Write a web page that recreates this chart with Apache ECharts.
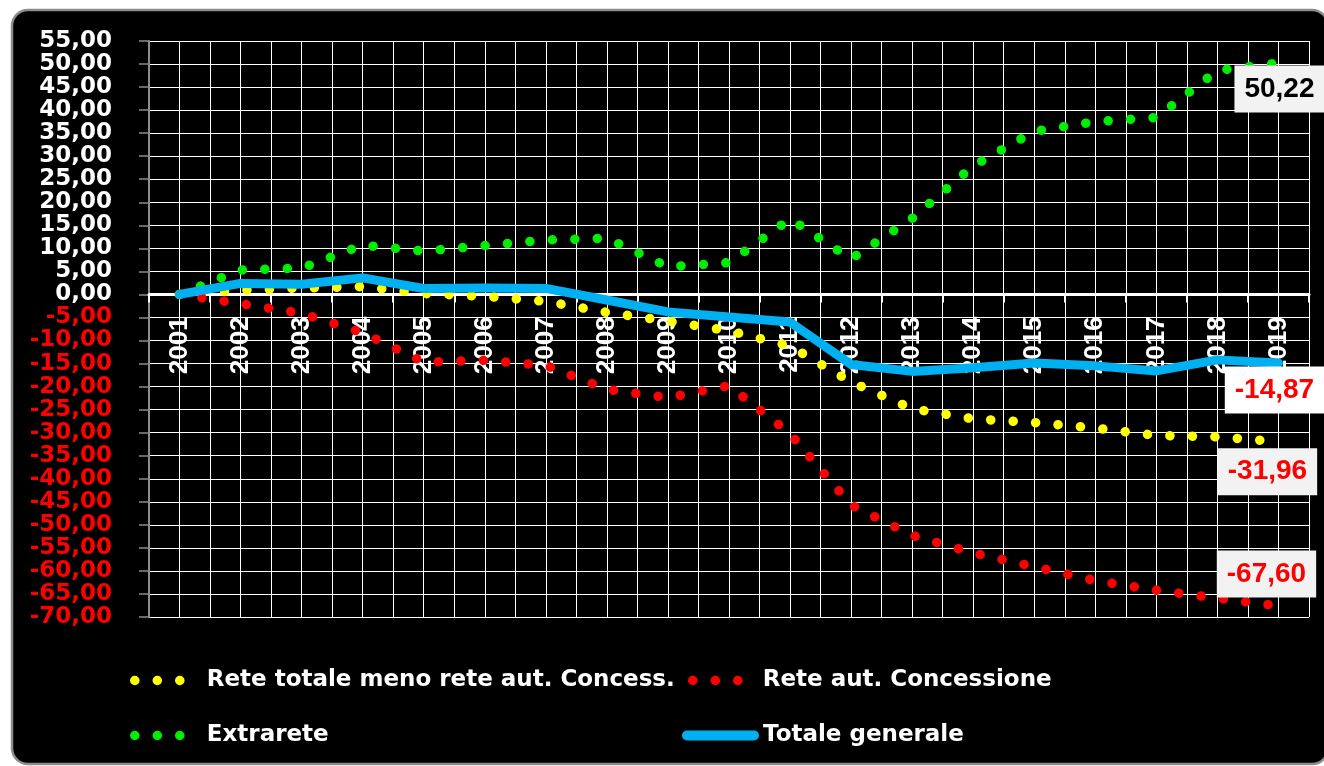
<!DOCTYPE html>
<html>
<head>
<meta charset="utf-8">
<script src="https://cdn.jsdelivr.net/npm/echarts@6/dist/echarts.min.js"></script>
<style>
html,body{margin:0;padding:0;background:#fff;}
#chart{width:1324px;height:766px;}
</style>
</head>
<body>
<div id="chart"></div>
<script>
// ---- data ----
const years = ['2001','2002','2003','2004','2005','2006','2007','2008','2009','2010',
               '2011','2012','2013','2014','2015','2016','2017','2018','2019'];
const reteTotaleMeno = [0, 0.9, 1.4, 1.7, 0.2, -0.4, -1.5, -3.9, -5.8, -7.9,
                        -11.2, -19.0, -24.8, -27.0, -27.8, -29.0, -30.6, -30.9, -31.96];
const reteAutConcessione = [0, -2.0, -4.1, -8.3, -14.7, -14.3, -15.4, -20.6, -22.4, -19.8,
                            -30.2, -45.7, -52.3, -56.1, -59.1, -62.1, -64.2, -65.9, -67.60];
const extrarete = [0, 5.3, 5.7, 10.7, 9.4, 10.6, 11.8, 12.2, 6.0, 6.9,
                   16.4, 7.7, 16.5, 27.9, 35.4, 37.5, 38.4, 48.6, 50.22];
const totaleGenerale = [0, 2.4, 2.2, 3.6, 1.3, 1.4, 1.3, -1.2, -3.8, -4.9,
                        -6.0, -15.2, -16.7, -15.9, -14.9, -15.5, -16.6, -14.2, -14.87];
const seriesNames = ['Rete totale meno rete aut. Concess.', 'Rete aut. Concessione', 'Extrarete', 'Totale generale'];
const yMin = -70, yMax = 55, yStep = 5;

const fmt = v => Number(v).toFixed(2).replace('.', ',');
const last = years.length - 1;

// grid geometry
const W = 1324, H = 766;
const gTop = 41, gBottom = 149, gLeft = 149, gRight = 15;
const plotH = H - gTop - gBottom;
const zeroY = gTop + (yMax / (yMax - yMin)) * plotH;
const xAxisOffset = -((H - gBottom) - zeroY);

const DOT = [0.1, 22.4];

function endMark(values, color, bg, offset) {
  return {
    symbol: 'circle', symbolSize: 1,
    itemStyle: {color: 'transparent'},
    animation: false,
    data: [{coord: [years[last], values[last]], value: values[last]}],
    label: {
      show: true, position: 'inside', offset: offset,
      formatter: p => fmt(p.value),
      color: color, backgroundColor: bg,
      fontFamily: 'Liberation Sans', fontWeight: 'bold', fontSize: 28,
      padding: [8, 10, 7, 10], lineHeight: 32
    }
  };
}

function dotted(name, values, color, mark) {
  return {
    name: name, type: 'line', data: values,
    symbol: 'none', showSymbol: false, z: 3,
    lineStyle: {color: color, width: 9.5, type: DOT, cap: 'round', join: 'round'},
    itemStyle: {color: color},
    markPoint: mark
  };
}

const chart = echarts.init(document.getElementById('chart'), null, {renderer: 'canvas'});
const legendText = {
  color: '#fff', fontFamily: 'DejaVu Sans', fontWeight: 'bold', fontSize: 23,
  textShadowColor: 'rgba(128,128,128,0.8)', textShadowOffsetX: 1, textShadowOffsetY: 2, textShadowBlur: 0
};
function leg(name, left, top, w, pad, color, dashed) {
  return {
    data: [name], left: left, top: top, orient: 'horizontal',
    itemWidth: w, itemHeight: 14, selectedMode: false,
    itemStyle: {color: 'transparent', borderColor: 'transparent', borderWidth: 0},
    lineStyle: {color: color, width: dashed ? 9.5 : 10, type: dashed ? DOT : 'solid', cap: 'round'},
    textStyle: Object.assign({padding: [0, 0, 0, pad]}, legendText)
  };
}

chart.setOption({
  backgroundColor: '#fff',
  animation: false,
  graphic: [{
    type: 'rect', z: -10, silent: true,
    shape: {x: 12, y: 10, width: 1316, height: 754, r: 16},
    style: {fill: '#000', stroke: '#8c8c8c', lineWidth: 2.5}
  }],
  grid: {left: gLeft, right: gRight, top: gTop, bottom: gBottom, containLabel: false},
  legend: [
    leg(seriesNames[0], 125, 664, 48, 19, '#ffff00', true),
    leg(seriesNames[1], 683, 664, 48, 17, '#ff0000', true),
    leg(seriesNames[2], 125, 719, 48, 19, '#00ee00', true),
    leg(seriesNames[3], 677, 719, 67, 4, '#00b0f0', false)
  ],
  xAxis: [{
    type: 'category', data: years, boundaryGap: true,
    position: 'bottom', offset: xAxisOffset,
    axisLine: {onZero: false, lineStyle: {color: '#fff', width: 3}},
    axisTick: {show: true, interval: 0, length: 8, lineStyle: {color: '#fff', width: 2}},
    axisLabel: {
      interval: 0, rotate: 90, margin: 22, color: '#fff',
      fontFamily: 'Liberation Sans', fontWeight: 'bold', fontSize: 26,
      textShadowColor: 'rgba(90,90,90,0.9)', textShadowOffsetX: 1, textShadowOffsetY: 1
    },
    splitLine: {show: false}, z: 2
  }, {
    type: 'value', min: 0, max: 38, interval: 1, position: 'top',
    axisLine: {show: false}, axisTick: {show: false}, axisLabel: {show: false},
    splitLine: {show: true, lineStyle: {color: '#fff', width: 1}}
  }],
  yAxis: {
    type: 'value', min: yMin, max: yMax, interval: yStep,
    axisLine: {show: true, onZero: false, lineStyle: {color: '#8c8c8c', width: 2}},
    axisTick: {show: true, length: 10, lineStyle: {color: '#8c8c8c', width: 1.5}},
    axisLabel: {
      margin: 37, formatter: v => fmt(v),
      color: v => (v < 0 ? '#ff0000' : '#ffffff'),
      fontFamily: 'DejaVu Sans', fontWeight: 'bold', fontSize: 23
    },
    splitLine: {show: true, lineStyle: {color: '#fff', width: 1}}
  },
  series: [
    dotted(seriesNames[0], reteTotaleMeno, '#ffff00', endMark(reteTotaleMeno, '#ff0000', '#f2f2f2', [-11, 30])),
    dotted(seriesNames[1], reteAutConcessione, '#ff0000', endMark(reteAutConcessione, '#ff0000', '#f2f2f2', [-12, -32])),
    dotted(seriesNames[2], extrarete, '#00ee00', endMark(extrarete, '#000000', '#f2f2f2', [1, 26])),
    {
      name: seriesNames[3], type: 'line', data: totaleGenerale,
      symbol: 'none', showSymbol: false, z: 4,
      lineStyle: {color: '#00b0f0', width: 9, cap: 'round', join: 'round'},
      itemStyle: {color: '#00b0f0'},
      markPoint: endMark(totaleGenerale, '#ff0000', '#ffffff', [-4, 27])
    }
  ]
});
</script>
</body>
</html>
